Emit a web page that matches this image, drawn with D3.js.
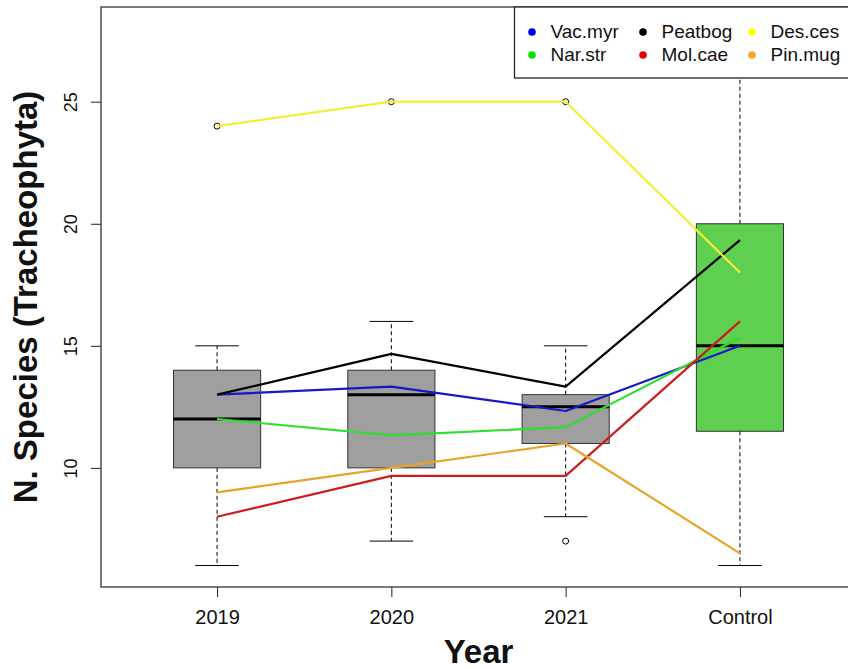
<!DOCTYPE html>
<html>
<head>
<meta charset="utf-8">
<script src="https://cdn.jsdelivr.net/npm/d3@7"></script>
<style>
  html, body { margin: 0; padding: 0; background: #fff; }
  svg { display: block; font-family: "Liberation Sans", Arial, sans-serif; }
</style>
</head>
<body>
<svg id="chart" width="848" height="669"></svg>
<script>
// Groups on the x axis
const years = ["2019", "2020", "2021", "Control"];

// Boxplot statistics per group
const whiskerLow  = [6, 7, 8, 6];
const q1          = [10, 10, 11, 11.5];
const median      = [12, 13, 12.5, 15];
const q3          = [14, 14, 13, 20];
const whiskerHigh = [15, 16, 15, 28];
const outliers    = [[24], [25], [25, 7], []];
const boxFill     = ["#9f9f9f", "#9f9f9f", "#9f9f9f", "#5ecf4e"];

// Mean species number per site type, one value per group
const seriesNames = ["Vac.myr", "Nar.str", "Peatbog", "Mol.cae", "Des.ces", "Pin.mug"];
const vacMyr  = [13, 13.33, 12.33, 15];
const narStr  = [12, 11.33, 11.67, 15.33];
const peatbog = [13, 14.67, 13.33, 19.33];
const molCae  = [8, 9.67, 9.67, 16];
const desCes  = [24, 25, 25, 18];
const pinMug  = [9, 10, 11, 6.5];
const seriesValues = [vacMyr, narStr, peatbog, molCae, desCes, pinMug];
const lineColors   = ["#1818c4", "#2ee02e", "#000000", "#cc1c1c", "#f4ee36", "#e8a428"];
const dotColors    = ["#0000e6", "#00e600", "#000000", "#e60000", "#ffff00", "#f5a623"];

// Tick values on the y axis
const yTicks = [10, 15, 20, 25];

const svg = d3.select("#chart");
const plot = { left: 101, right: 856, top: 7, bottom: 587 };

const x = d3.scalePoint().domain(years).range([plot.left, plot.right]).padding(0.666);
const y = d3.scaleLinear().domain([5.12, 28.88]).range([plot.bottom, plot.top]);
const boxW = x.step() * 0.5;
const capW = boxW * 0.5;

// Boxes
const g = svg.append("g");
years.forEach((yr, i) => {
  const cx = x(yr);
  // whiskers (dashed)
  g.append("line").attr("x1", cx).attr("x2", cx)
    .attr("y1", y(q3[i])).attr("y2", y(whiskerHigh[i]))
    .attr("stroke", "#000").attr("stroke-width", 1).attr("stroke-dasharray", "4,3");
  g.append("line").attr("x1", cx).attr("x2", cx)
    .attr("y1", y(q1[i])).attr("y2", y(whiskerLow[i]))
    .attr("stroke", "#000").attr("stroke-width", 1).attr("stroke-dasharray", "4,3");
  // caps
  [whiskerHigh[i], whiskerLow[i]].forEach(v => {
    g.append("line").attr("x1", cx - capW / 2).attr("x2", cx + capW / 2)
      .attr("y1", y(v)).attr("y2", y(v))
      .attr("stroke", "#000").attr("stroke-width", 1);
  });
  // box
  g.append("rect").attr("x", cx - boxW / 2).attr("width", boxW)
    .attr("y", y(q3[i])).attr("height", y(q1[i]) - y(q3[i]))
    .attr("fill", boxFill[i]).attr("stroke", "#333").attr("stroke-width", 1);
  // median
  g.append("line").attr("x1", cx - boxW / 2).attr("x2", cx + boxW / 2)
    .attr("y1", y(median[i])).attr("y2", y(median[i]))
    .attr("stroke", "#000").attr("stroke-width", 3);
  // outliers
  outliers[i].forEach(v => {
    g.append("circle").attr("cx", cx).attr("cy", y(v)).attr("r", 3)
      .attr("fill", "none").attr("stroke", "#000").attr("stroke-width", 1);
  });
});

// Series lines
const line = d3.line().x((d, j) => x(years[j])).y(d => y(d));
seriesValues.forEach((vals, k) => {
  svg.append("path").datum(vals).attr("d", line)
    .attr("fill", "none").attr("stroke", lineColors[k]).attr("stroke-width", 2.2)
    .attr("stroke-linejoin", "round");
});

// Axes
const yAxis = svg.append("g").attr("transform", `translate(${plot.left},0)`)
  .call(d3.axisLeft(y).tickValues(yTicks).tickSize(10).tickFormat(d3.format("d")));
yAxis.select(".domain").remove();
yAxis.selectAll(".tick line").attr("stroke", "#222");
yAxis.selectAll(".tick text")
  .attr("transform", "rotate(-90)").attr("x", 0).attr("y", -24).attr("dy", 0)
  .style("text-anchor", "middle").style("font-size", "18px").attr("fill", "#111");

const xAxis = svg.append("g").attr("transform", `translate(0,${plot.bottom})`)
  .call(d3.axisBottom(x).tickSize(10));
xAxis.select(".domain").remove();
xAxis.selectAll(".tick line").attr("stroke", "#222");
xAxis.selectAll(".tick text").attr("y", 36.5).attr("dy", 0)
  .style("font-size", "20px").attr("fill", "#111");

// Plot frame
svg.append("rect").attr("x", plot.left).attr("y", plot.top)
  .attr("width", plot.right - plot.left).attr("height", plot.bottom - plot.top)
  .attr("fill", "none").attr("stroke", "#333").attr("stroke-width", 1.3);

// Axis titles
svg.append("text").attr("transform", `translate(37,${(plot.top + plot.bottom) / 2}) rotate(-90)`)
  .attr("text-anchor", "middle").style("font-size", "33px").style("font-weight", "bold")
  .attr("fill", "#111").text("N. Species (Tracheophyta)");
svg.append("text").attr("x", (plot.left + plot.right) / 2).attr("y", 663)
  .attr("text-anchor", "middle").style("font-size", "33px").style("font-weight", "bold")
  .attr("fill", "#111").text("Year");

// Legend (top right, three columns)
const leg = svg.append("g");
leg.append("rect").attr("x", 514.5).attr("y", plot.top).attr("width", plot.right - 514.5)
  .attr("height", 71).attr("fill", "#fff").attr("stroke", "#222").attr("stroke-width", 1.3);
const colX = [532, 643, 752];
const rowY = [32, 55];
seriesNames.forEach((name, k) => {
  const c = Math.floor(k / 2), r = k % 2;
  leg.append("circle").attr("cx", colX[c]).attr("cy", rowY[r]).attr("r", 3.8).attr("fill", dotColors[k]);
  leg.append("text").attr("x", colX[c] + 18.5).attr("y", rowY[r] + 6)
    .style("font-size", "19px").attr("fill", "#111").text(name);
});
</script>
</body>
</html>
